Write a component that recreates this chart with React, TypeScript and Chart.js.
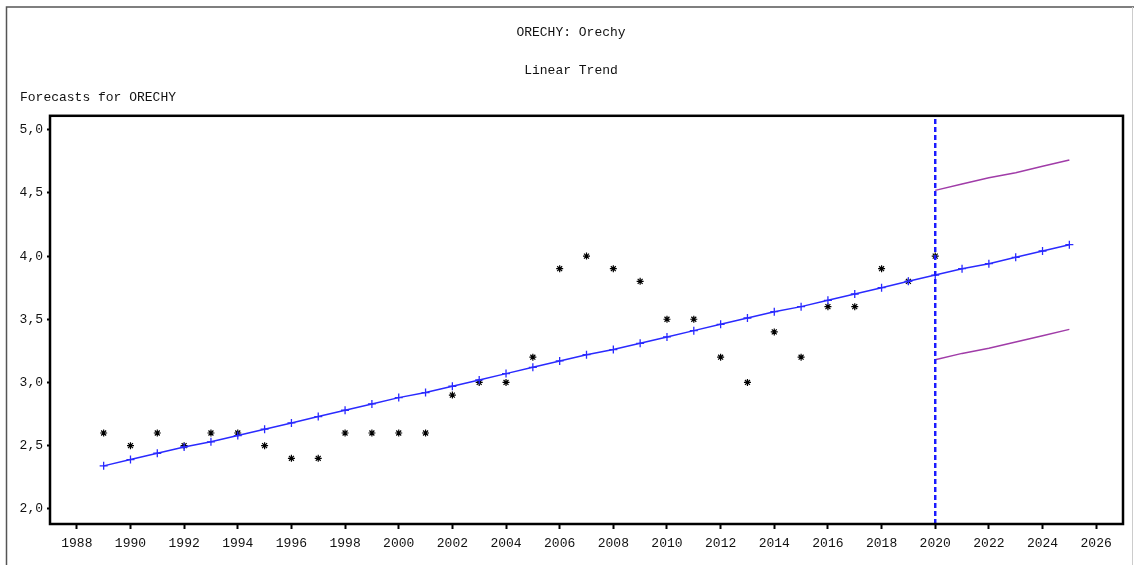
import React, { useEffect, useRef } from "react";
import { Chart, registerables } from "chart.js";

Chart.register(...registerables);

const TITLE = "ORECHY: Orechy";
const SUBTITLE = "Linear Trend";
const Y_LABEL = "Forecasts for ORECHY";

const years = [
  1989, 1990, 1991, 1992, 1993, 1994, 1995, 1996, 1997, 1998, 1999, 2000, 2001,
  2002, 2003, 2004, 2005, 2006, 2007, 2008, 2009, 2010, 2011, 2012, 2013, 2014,
  2015, 2016, 2017, 2018, 2019, 2020, 2021, 2022, 2023, 2024, 2025,
];

// observed values 1989..2020
const actualValues = [
  2.6, 2.5, 2.6, 2.5, 2.6, 2.6, 2.5, 2.4, 2.4, 2.6, 2.6, 2.6, 2.6, 2.9, 3.0, 3.0,
  3.2, 3.9, 4.0, 3.9, 3.8, 3.5, 3.5, 3.2, 3.0, 3.4, 3.2, 3.6, 3.6, 3.9, 3.8, 4.0,
];

// fitted linear trend + forecast 1989..2025
const trendValues = [
  2.34, 2.39, 2.44, 2.49, 2.53, 2.58, 2.63, 2.68, 2.73, 2.78, 2.83, 2.88, 2.92,
  2.97, 3.02, 3.07, 3.12, 3.17, 3.22, 3.26, 3.31, 3.36, 3.41, 3.46, 3.51, 3.56,
  3.6, 3.65, 3.7, 3.75, 3.8, 3.85, 3.9, 3.94, 3.99, 4.04, 4.09,
];

const forecastYears = [2020, 2021, 2022, 2023, 2024, 2025];
const upperValues = [4.52, 4.57, 4.62, 4.66, 4.71, 4.76];
const lowerValues = [3.18, 3.23, 3.27, 3.32, 3.37, 3.42];

const forecastStart = 2020;

const xTickValues = [
  1988, 1990, 1992, 1994, 1996, 1998, 2000, 2002, 2004, 2006, 2008, 2010, 2012,
  2014, 2016, 2018, 2020, 2022, 2024, 2026,
];
const yTickValues = [2.0, 2.5, 3.0, 3.5, 4.0, 4.5, 5.0];

const X_MIN = 1987;
const X_MAX = 2027;
const Y_MIN = 1.88;
const Y_MAX = 5.11;

const FONT = "'Liberation Mono', 'DejaVu Sans Mono', monospace";
const TEXT_COLOR = "#111";
const BLUE = "#2a2aff";
const PURPLE = "#a03ca8";

const framePlugin = {
  id: "sasFrame",
  afterDatasetsDraw(chart: any) {
    const { ctx, chartArea } = chart;
    ctx.save();
    ctx.strokeStyle = "#000";
    ctx.lineWidth = 2.5;
    ctx.strokeRect(
      chartArea.left,
      chartArea.top,
      chartArea.right - chartArea.left,
      chartArea.bottom - chartArea.top
    );
    ctx.restore();
  },
  afterDraw(chart: any) {
    const { ctx, width, height } = chart;
    ctx.save();
    // outer frame
    ctx.strokeStyle = "#555";
    ctx.lineWidth = 1.5;
    ctx.beginPath();
    ctx.moveTo(6.5, height);
    ctx.lineTo(6.5, 7);
    ctx.lineTo(width, 7);
    ctx.stroke();
    ctx.strokeStyle = "#ccc";
    ctx.lineWidth = 1;
    ctx.beginPath();
    ctx.moveTo(width - 1.5, 7);
    ctx.lineTo(width - 1.5, height);
    ctx.stroke();
    // y-axis caption
    ctx.fillStyle = TEXT_COLOR;
    ctx.font = `13px ${FONT}`;
    ctx.textAlign = "left";
    ctx.textBaseline = "middle";
    ctx.fillText(Y_LABEL, 20, 98);
    ctx.restore();
  },
};

export default function App() {
  const canvasRef = useRef<HTMLCanvasElement | null>(null);

  useEffect(() => {
    const canvas = canvasRef.current;
    if (!canvas) return;

    const actualData = actualValues.map((v, i) => ({ x: years[i], y: v }));
    const trendData = trendValues.map((v, i) => ({ x: years[i], y: v }));
    const upperData = upperValues.map((v, i) => ({ x: forecastYears[i], y: v }));
    const lowerData = lowerValues.map((v, i) => ({ x: forecastYears[i], y: v }));
    const startLine = [
      { x: forecastStart, y: Y_MIN },
      { x: forecastStart, y: Y_MAX },
    ];

    const chart = new Chart(canvas, {
      type: "scatter",
      data: {
        datasets: [
          {
            label: "Forecast start",
            data: startLine,
            showLine: true,
            borderColor: "#1a1aff",
            borderWidth: 2.5,
            borderDash: [5, 3],
            pointRadius: 0,
          },
          {
            label: "Trend",
            data: trendData,
            showLine: true,
            borderColor: BLUE,
            borderWidth: 1.5,
            pointStyle: "cross",
            pointRadius: 4,
            pointBorderWidth: 1.3,
            pointBorderColor: BLUE,
            pointBackgroundColor: BLUE,
          },
          {
            label: "Upper",
            data: upperData,
            showLine: true,
            borderColor: PURPLE,
            borderWidth: 1.5,
            pointRadius: 0,
          },
          {
            label: "Lower",
            data: lowerData,
            showLine: true,
            borderColor: PURPLE,
            borderWidth: 1.5,
            pointRadius: 0,
          },
          {
            label: "ORECHY",
            data: actualData,
            showLine: false,
            pointStyle: "star",
            pointRadius: 3.5,
            pointBorderWidth: 1.2,
            pointBorderColor: "#000",
            pointBackgroundColor: "#000",
          },
        ],
      },
      options: {
        responsive: false,
        animation: false,
        events: [],
        layout: { padding: { left: 19, right: 11, top: 0, bottom: 0 } },
        plugins: {
          legend: { display: false },
          tooltip: { enabled: false },
          title: {
            display: true,
            text: TITLE,
            color: TEXT_COLOR,
            font: { family: FONT, size: 13, weight: "normal" },
            padding: { top: 25, bottom: 0 },
          },
          subtitle: {
            display: true,
            text: SUBTITLE,
            color: TEXT_COLOR,
            font: { family: FONT, size: 13, weight: "normal" },
            padding: { top: 22.4, bottom: 37.2 },
          },
        },
        scales: {
          x: {
            type: "linear",
            min: X_MIN,
            max: X_MAX,
            border: { display: false },
            grid: {
              display: true,
              drawOnChartArea: false,
              drawTicks: true,
              tickLength: 5,
              tickColor: "#000",
              tickWidth: 2,
            },
            ticks: {
              includeBounds: false,
              autoSkip: false,
              maxRotation: 0,
              color: TEXT_COLOR,
              padding: 7,
              font: { family: FONT, size: 13 },
              callback: (v: any) => String(v),
            },
            afterBuildTicks: (scale: any) => {
              scale.ticks = xTickValues.map((v) => ({ value: v }));
            },
            afterFit: (scale: any) => {
              scale.height = 41;
            },
          },
          y: {
            type: "linear",
            min: Y_MIN,
            max: Y_MAX,
            border: { display: false },
            grid: {
              display: true,
              drawOnChartArea: false,
              drawTicks: true,
              tickLength: 3,
              tickColor: "#000",
              tickWidth: 2,
            },
            ticks: {
              includeBounds: false,
              autoSkip: false,
              color: TEXT_COLOR,
              padding: 4,
              font: { family: FONT, size: 13 },
              callback: (v: any) => Number(v).toFixed(1).replace(".", ","),
            },
            afterBuildTicks: (scale: any) => {
              scale.ticks = yTickValues.map((v) => ({ value: v }));
            },
            afterFit: (scale: any) => {
              scale.width = 31;
            },
          },
        },
      },
      plugins: [framePlugin],
    });

    return () => chart.destroy();
  }, []);

  return (
    <div
      style={{
        position: "absolute",
        left: 0,
        top: 0,
        width: 1134,
        height: 565,
        background: "#fff",
        overflow: "hidden",
      }}
    >
      <canvas
        ref={canvasRef}
        width={1134}
        height={565}
        style={{ width: 1134, height: 565, display: "block" }}
      />
    </div>
  );
}
